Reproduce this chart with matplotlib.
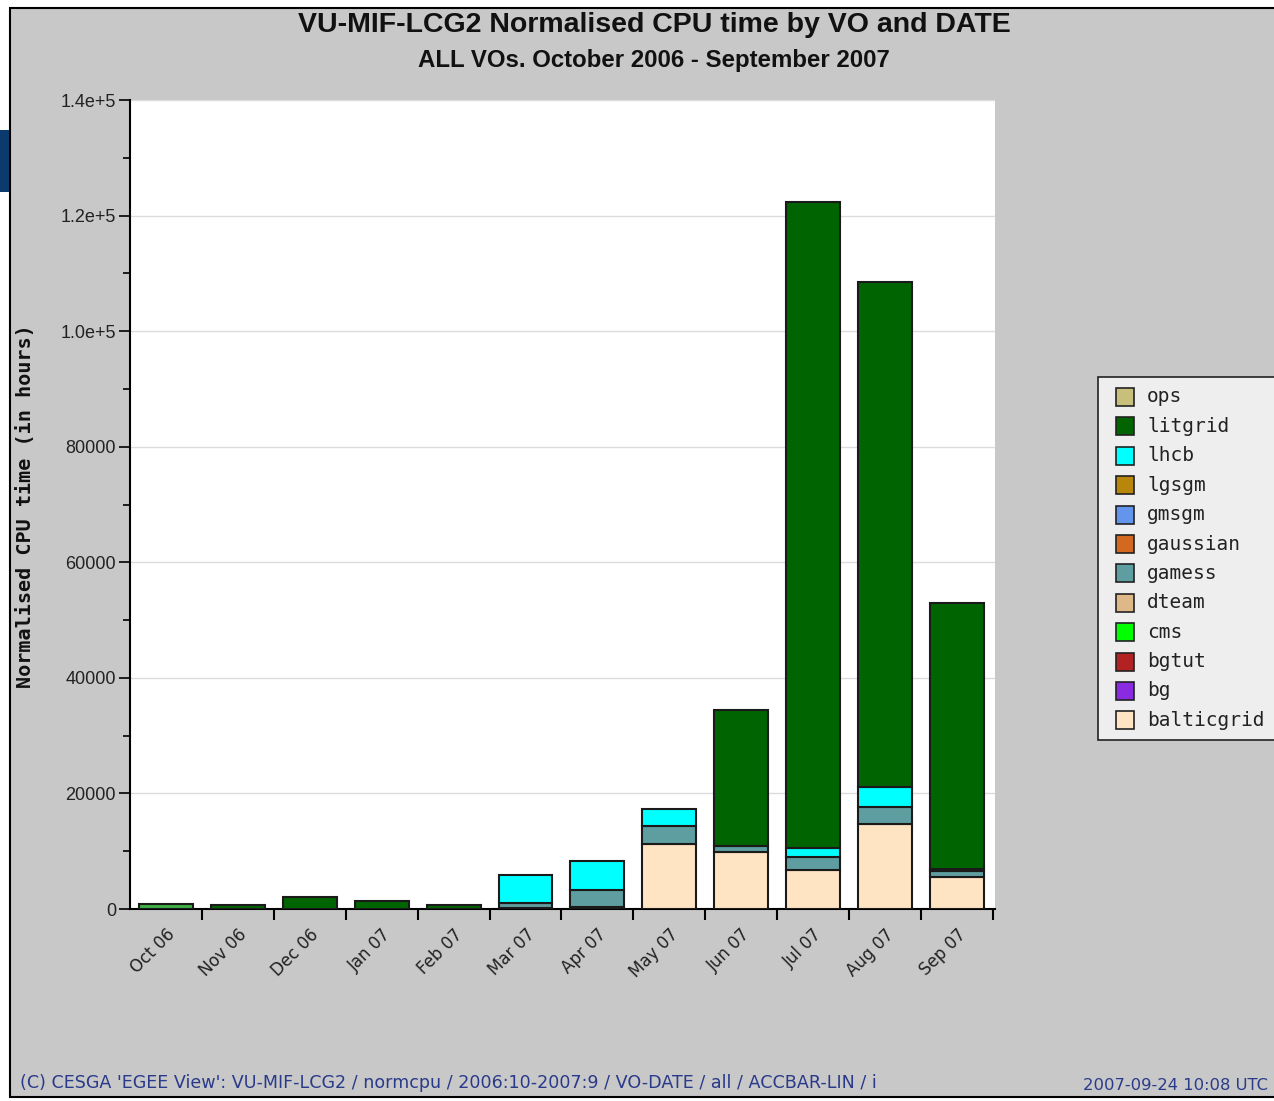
import matplotlib
matplotlib.use("Agg")
import matplotlib.pyplot as plt
from matplotlib.patches import Rectangle
import numpy as np

months = ["Oct 06", "Nov 06", "Dec 06", "Jan 07", "Feb 07", "Mar 07",
          "Apr 07", "May 07", "Jun 07", "Jul 07", "Aug 07", "Sep 07"]

# stacking order bottom -> top
vos = ["balticgrid", "bg", "bgtut", "cms", "dteam", "gamess", "gaussian",
       "gmsgm", "lgsgm", "lhcb", "litgrid", "ops"]
colors = {"balticgrid": "#ffe4c4", "bg": "#8a2be2", "bgtut": "#b22222",
          "cms": "#3cb043", "dteam": "#deb887", "gamess": "#5f9ea0",
          "gaussian": "#d2691e", "gmsgm": "#6495ed", "lgsgm": "#b8860b",
          "lhcb": "#00ffff", "litgrid": "#006400", "ops": "#c8c07a"}
legend_colors = dict(colors, cms="#00ff00")

balticgrid = [0, 0, 0, 0, 0, 200, 300, 11200, 9900, 6750, 14700, 5500]
bg         = [0] * 12
bgtut      = [0] * 12
cms        = [800, 0, 0, 0, 0, 0, 0, 0, 0, 0, 0, 0]
dteam      = [0] * 12
gamess     = [0, 0, 0, 0, 0, 800, 3000, 3200, 950, 2200, 2900, 1150]
gaussian   = [0] * 12
gmsgm      = [0] * 12
lgsgm      = [0] * 12
lhcb       = [0, 0, 0, 0, 0, 4900, 5050, 2850, 0, 1550, 3450, 250]
litgrid    = [0, 750, 2100, 1400, 750, 0, 0, 0, 23550, 111800, 87450, 46050]
ops        = [0] * 12

data = {"balticgrid": balticgrid, "bg": bg, "bgtut": bgtut, "cms": cms,
        "dteam": dteam, "gamess": gamess, "gaussian": gaussian,
        "gmsgm": gmsgm, "lgsgm": lgsgm, "lhcb": lhcb, "litgrid": litgrid,
        "ops": ops}

yticks = [0, 20000, 40000, 60000, 80000, 100000, 120000, 140000]
ytick_labels = ["0", "20000", "40000", "60000", "80000", "1.0e+5", "1.2e+5", "1.4e+5"]

W, H = 1274, 1101
fig = plt.figure(figsize=(W / 100, H / 100), dpi=100)
fig.patch.set_facecolor("white")

def fx(px):
    return px / W

def fy(py):
    return 1 - py / H

# gray panel with black border
fig.patches.append(Rectangle((fx(10), fy(1097)), 1.2, (1097 - 8) / H,
                             transform=fig.transFigure, facecolor="#c8c8c8",
                             edgecolor="black", linewidth=1.5, zorder=-10))
# navy strip at left edge
fig.patches.append(Rectangle((0, fy(192)), 9 / W, 62 / H,
                             transform=fig.transFigure, facecolor="#0b3a6e",
                             edgecolor="none", zorder=-9))

ax = fig.add_axes([fx(130), fy(909), (995 - 130) / W, (909 - 100) / H])
ax.set_facecolor("white")

x = np.arange(len(months))
bottom = np.zeros(len(months))
for vo in vos:
    vals = np.array(data[vo], dtype=float)
    mask = vals > 0
    ax.bar(x[mask], vals[mask], bottom=bottom[mask], width=0.75,
           color=colors[vo], edgecolor="#1a1a1a", linewidth=1.5, zorder=3)
    bottom += vals

ax.set_xlim(-0.5, 11.53)
ax.set_ylim(0, 140000)

ax.set_yticks(yticks)
ax.set_yticklabels(ytick_labels, fontsize=13, color="#222222",
                   family="Liberation Sans")
ax.set_yticks(np.arange(10000, 140000, 20000), minor=True)
ax.tick_params(axis="y", which="major", length=8, width=1.2, direction="out", pad=2)
ax.tick_params(axis="y", which="minor", length=5, width=1.2, direction="out")
ax.grid(axis="y", which="major", color="#dcdcdc", linewidth=1, zorder=0)

ax.set_xticks(x)
ax.set_xticklabels(months, rotation=45, ha="right", va="top",
                   rotation_mode="anchor", fontsize=12, color="#222222")
ax.tick_params(axis="x", which="major", length=0, pad=12)
ax.set_xticks(np.arange(0.5, 12, 1.0), minor=True)
ax.tick_params(axis="x", which="minor", length=8, width=1.5, direction="out")

for s in ["top", "right"]:
    ax.spines[s].set_visible(False)
ax.spines["left"].set_linewidth(1.5)
ax.spines["bottom"].set_linewidth(1.5)

fig.text(fx(654), fy(25), "VU-MIF-LCG2 Normalised CPU time by VO and DATE",
         ha="center", va="center", fontsize=20.5, fontweight="bold",
         family="Liberation Sans", color="#111111")
fig.text(fx(654), fy(61), "ALL VOs. October 2006 - September 2007",
         ha="center", va="center", fontsize=17.3, fontweight="bold",
         family="Liberation Sans", color="#111111")
fig.text(fx(26), fy(506), "Normalised CPU time (in hours)", rotation=90,
         ha="center", va="center", fontsize=14.5, fontweight="bold",
         family="DejaVu Sans Mono", color="#111111")

# legend (drawn manually, its right side runs off the figure like the original)
fig.patches.append(Rectangle((fx(1098), fy(740)), 0.2, (740 - 377) / H,
                             transform=fig.transFigure, facecolor="#eeeeee",
                             edgecolor="#222222", linewidth=1.2, zorder=5))
for i, vo in enumerate(vos[::-1]):
    yc = 397 + 29.4 * i
    fig.patches.append(Rectangle((fx(1116), fy(yc + 9)), 18 / W, 18 / H,
                                 transform=fig.transFigure,
                                 facecolor=legend_colors[vo],
                                 edgecolor="#222222", linewidth=1.2, zorder=6))
    fig.text(fx(1147), fy(yc), vo, ha="left", va="center", fontsize=14,
             family="DejaVu Sans Mono", color="#222222", zorder=7)

fig.text(fx(20), fy(1083),
         "(C) CESGA 'EGEE View': VU-MIF-LCG2 / normcpu / 2006:10-2007:9 / VO-DATE / all / ACCBAR-LIN / i",
         ha="left", va="center", fontsize=12.6, color="#2a3a8a")
fig.text(fx(1083), fy(1086), "2007-09-24 10:08 UTC", ha="left", va="center",
         fontsize=11.8, color="#2a3a8a")

fig.savefig("out.png", dpi=100)
